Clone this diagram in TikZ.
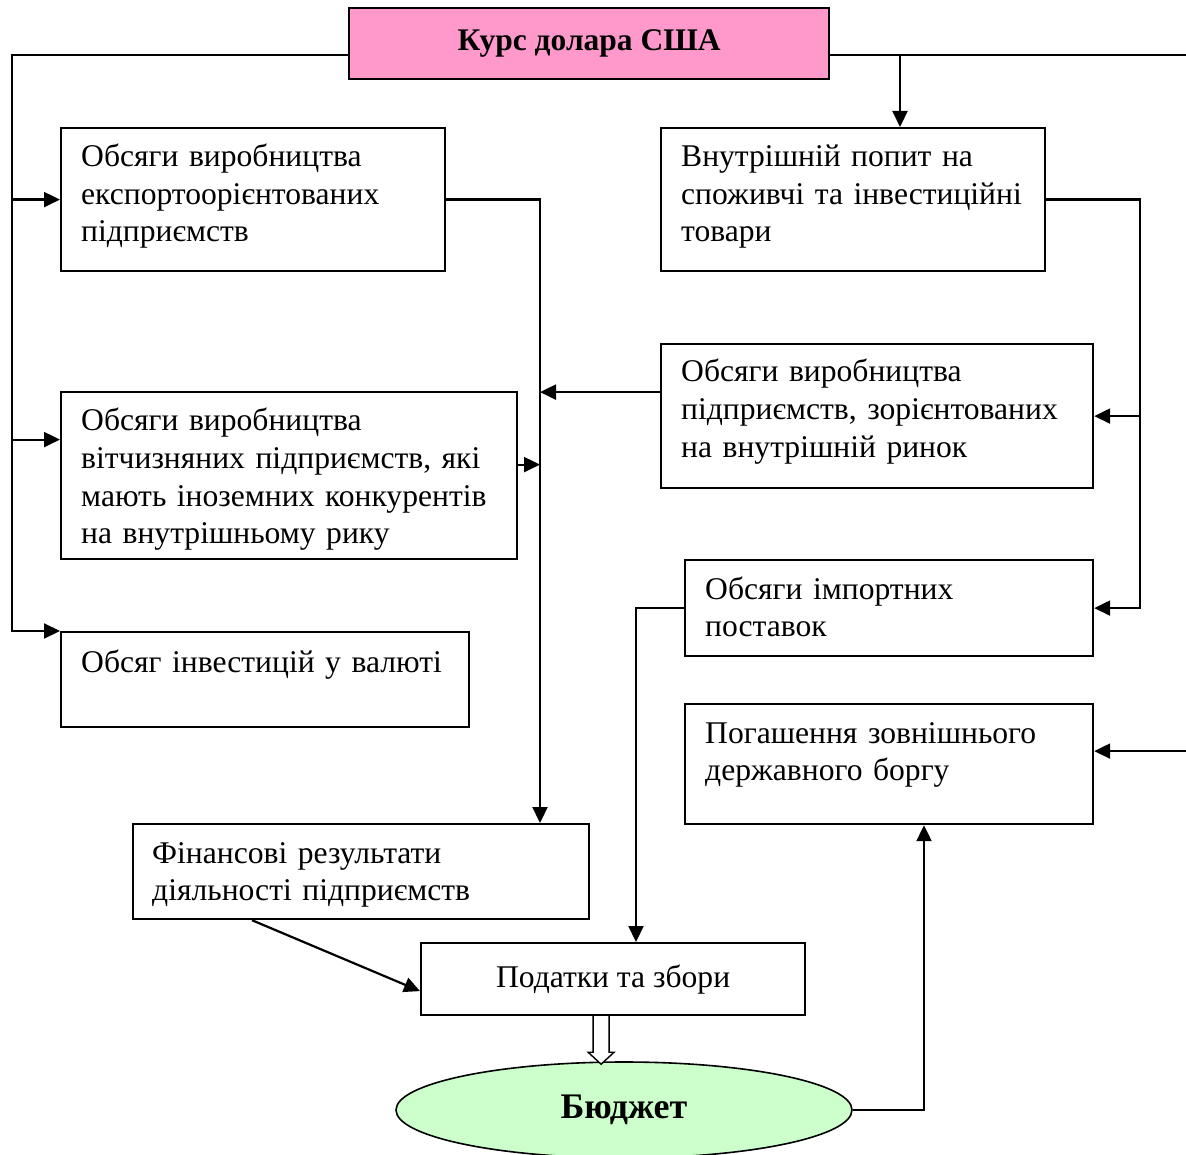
\documentclass[tikz,border=0pt]{standalone}
\usepackage{fontspec}
\setmainfont{Liberation Serif}
\usetikzlibrary{arrows.meta,shapes.geometric,calc}
\definecolor{kpink}{HTML}{FF99CC}
\definecolor{kgreen}{HTML}{CCFFCC}
\begin{document}
\begin{tikzpicture}[x=1pt,y=-1pt,
  box/.style={draw, line width=2.2pt, anchor=north west, inner sep=0pt, rectangle},
  txt/.style={anchor=base west, inner sep=0pt, align=left, text width=520pt, font=\fontsize{31.6}{37.5}\selectfont},
  con/.style={line width=2.2pt},
  arr/.style={line width=2.2pt, -{Triangle[length=16pt,width=15pt]}},
]
\useasboundingbox (0,0) rectangle (1186,1155);

% boxes
\node[box, fill=kpink, minimum width=480pt, minimum height=71pt, font=\fontsize{31.5}{37}\selectfont\bfseries] (kurs) at (348,7) {Курс долара США};
\node[box, minimum width=384pt, minimum height=143pt] (b1) at (60,127) {};
\node[box, minimum width=456pt, minimum height=167pt] (b2) at (60,391) {};
\node[box, minimum width=408pt, minimum height=95pt] (inv) at (60,631) {};
\node[box, minimum width=384pt, minimum height=143pt] (vn) at (660,127) {};
\node[box, minimum width=432pt, minimum height=144pt] (dom) at (660,343) {};
\node[box, minimum width=408pt, minimum height=96pt] (imp) at (684,559) {};
\node[box, minimum width=408pt, minimum height=120pt] (debt) at (684,703) {};
\node[box, minimum width=456pt, minimum height=95pt] (fin) at (132,823) {};
\node[box, minimum width=384pt, minimum height=72pt, font=\fontsize{31.6}{37}\selectfont] (pod) at (420,942) {Податки та збори};
\node[ellipse, draw, line width=1.6pt, fill=kgreen, minimum width=456pt, minimum height=96pt, inner sep=0pt, font=\fontsize{36}{42}\selectfont\bfseries] (ell) at (624,1110) {Бюджет};

% texts
\node[txt] (b1t) at (81,167) {Обсяги виробництва\\експортоорієнтованих\\підприємств};
\node[txt] (b2t) at (81,431) {Обсяги виробництва\\вітчизняних підприємств, які\\мають іноземних конкурентів\\на внутрішньому рику};
\node[txt] (invt) at (81,672) {Обсяг інвестицій у валюті};
\node[txt] (vnt) at (681,167) {Внутрішній попит на\\споживчі та інвестиційні\\товари};
\node[txt] (domt) at (681,382) {Обсяги виробництва\\підприємств, зорієнтованих\\на внутрішній ринок};
\node[txt] (impt) at (705,599) {Обсяги імпортних\\поставок};
\node[txt] (debtt) at (705,743) {Погашення зовнішнього\\державного боргу};
\node[txt] (fint) at (152,863) {Фінансові результати\\діяльності підприємств};

% helper coordinates
\coordinate (hTop) at (0,55);
\coordinate (LX) at (12,0);
\coordinate (M) at (540,0);
\coordinate (RR) at (1140,0);
\coordinate (IM) at (636,0);
\coordinate (EX) at (924,0);
\coordinate (vT) at (900,55);
\coordinate (RE) at (1191,0);

% left trunk
\draw[arr] (kurs.west |- hTop) -- (LX |- hTop) -- (LX |- inv.north west) -- (inv.north west);
\draw[arr] (LX |- b1.west) -- (b1.west);
\coordinate (b2in) at ($(b2.west)+(0,-36)$);
\draw[arr] (LX |- b2in) -- (b2in);

% right trunk
\draw[con] (kurs.east |- hTop) -- (RE |- hTop) -- (RE |- 0,750);
\coordinate (dbin) at ($(debt.east)+(0,-13)$);
\draw[arr] (RE |- dbin) -- (dbin);
\draw[arr] (vT) -- (vT |- vn.north);

% middle trunk
\draw[arr] (b1.east) -- (b1.east -| M) -- (M |- fin.north);
\coordinate (b2o) at ($(b2.east)+(0,-11)$);
\draw[arr] (b2o) -- (b2o -| M);
\coordinate (domo) at ($(dom.west)+(0,-24)$);
\draw[arr] (domo) -- (domo -| M);

% right inner trunk
\draw[arr] (vn.east) -- (vn.east -| RR) -- (RR |- imp.east) -- (imp.east);
\draw[arr] (RR |- dom.east) -- (dom.east);

% imports to taxes
\draw[arr] (imp.west) -- (imp.west -| IM) -- (IM |- pod.north);

% financial results to taxes
\coordinate (fino) at ($(fin.south west)+(120,0)$);
\coordinate (podin) at ($(pod.west)+(0,12)$);
\draw[arr] (fino) -- (podin);

% hollow double arrow
\coordinate (dA) at ($(pod.south)+(-12,0)$);
\draw[line width=1.4pt, fill=white, line join=miter] ($(dA)+(-8,0)$) -- ++(0,36) -- ++(-5,0) -- ($(dA)+(0,48)$) -- ($(dA)+(13,36)$) -- ++(-5,0) -- ($(dA)+(8,0)$);

% budget to debt
\draw[arr] (ell.east) -- (ell.east -| EX) -- (EX |- debt.south);
\end{tikzpicture}
\end{document}
